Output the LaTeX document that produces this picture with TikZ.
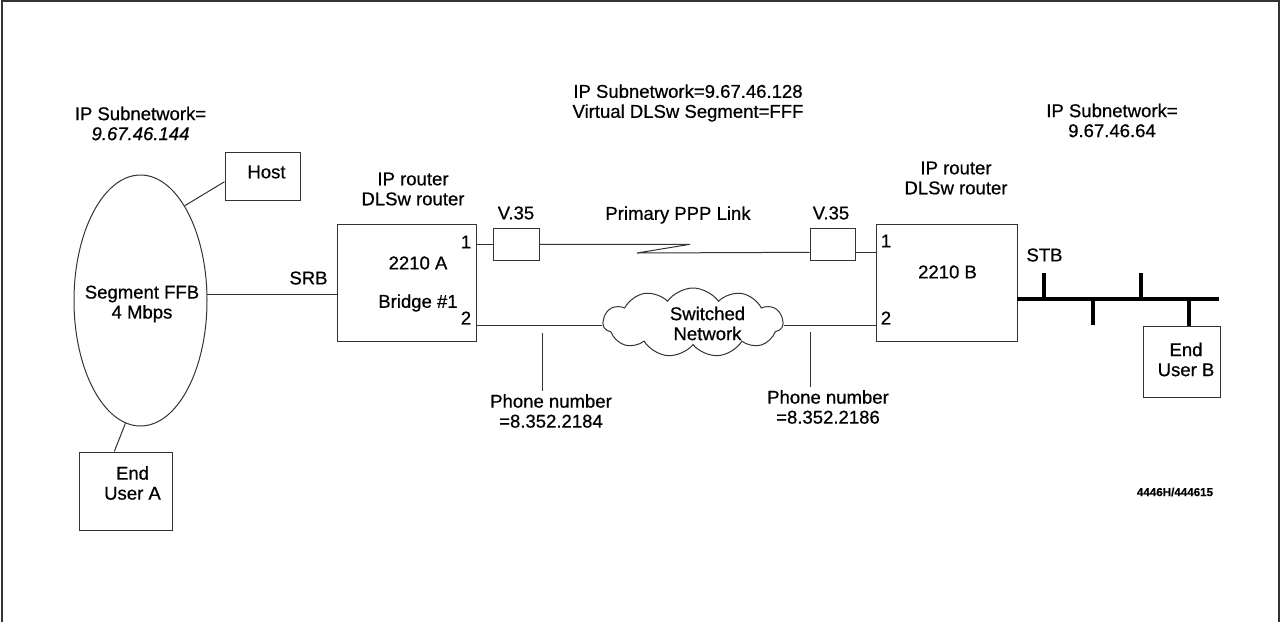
\documentclass[tikz,border=0pt]{standalone}
\usepackage{fontspec}
\setmainfont{Liberation Sans}[FakeBold=0.6]
\usetikzlibrary{shapes.geometric,shapes.symbols}
\begin{document}
\begin{tikzpicture}[x=0.75pt,y=-0.75pt,
 txt/.style={inner sep=0pt,align=center,font=\fontsize{13.9}{15}\selectfont},
 box/.style={draw=black!80,line width=0.75pt,inner sep=0pt},
 conn/.style={draw=black!80,line width=0.75pt},
 bus/.style={draw=black,line width=3pt},
 frameline/.style={draw=black!80,line width=1.5pt}]
\useasboundingbox (0,0) rectangle (1280,622);
% frame
\coordinate (f1) at (2,622);
\coordinate (f2) at (2,1);
\coordinate (f3) at (1279,1);
\coordinate (f4) at (1279,622);
\draw[frameline] (f1) -- (f2) -- (f3) -- (f4);

% shapes
\node[box,ellipse,minimum width=99.75pt,minimum height=188.25pt] (seg) at (140.5,300.5) {};
\node[box,minimum width=56.25pt,minimum height=36pt] (host) at (262.5,176) {};
\node[box,minimum width=69.75pt,minimum height=58.5pt] (eua) at (125.5,491) {};
\node[box,minimum width=104.25pt,minimum height=87.75pt] (ra) at (406.5,282.5) {};
\node[box,minimum width=105.75pt,minimum height=87.75pt] (rb) at (946.5,282.5) {};
\node[box,minimum width=34.5pt,minimum height=24pt] (va) at (516,244.3) {};
\node[box,minimum width=33.75pt,minimum height=24pt] (vb) at (832.5,244.3) {};
\node[box,minimum width=57.75pt,minimum height=53.25pt] (eub) at (1181.5,361.5) {};
\node[box,cloud,cloud puffs=11,cloud puff arc=110,cloud ignores aspect,minimum width=135pt,minimum height=51.75pt] (net) at (693,322.5) {};

% texts
\node[txt] (subL) at (140.5,123.5) {IP Subnetwork=\\{\itshape 9.67.46.144}};
\node[txt] (subM) at (688,103) {IP Subnetwork=9.67.46.128\\Virtual DLSw Segment=FFF};
\node[txt] (subR) at (1112,120.5) {IP Subnetwork=\\9.67.46.64};
\node[txt] (hostt) at (266.5,172) {Host};
\node[txt] (segt) at (142,304) {Segment FFB\\4 Mbps};
\node[txt] (euat) at (132.5,483) {End\\User A};
\node[txt] (srb) at (308.5,278) {SRB};
\node[txt] (ipa) at (413,189) {IP router\\DLSw router};
\node[txt] (pa1) at (466,242) {1};
\node[txt] (rat) at (418,263) {2210 A};
\node[txt] (brt) at (418,303) {Bridge \#1};
\node[txt] (pa2) at (466,318) {2};
\node[txt] (vat) at (516,213) {V.35};
\node[txt] (vbt) at (831,213) {V.35};
\node[txt] (ppp) at (678,215) {Primary PPP Link};
\node[txt] (ipb) at (956,178) {IP router\\DLSw router};
\node[txt] (pb1) at (886,241) {1};
\node[txt] (rbt) at (947.5,272) {2210 B};
\node[txt] (pb2) at (886,318) {2};
\node[txt] (stb) at (1044.5,255) {STB};
\node[txt] (eubt) at (1186,359.5) {End\\User B};
\node[txt] (swt) at (707.5,323.5) {Switched\\Network};
\node[txt] (ph1) at (551,411) {Phone number\\=8.352.2184};
\node[txt] (ph2) at (828,407) {Phone number\\=8.352.2186};
\node[inner sep=0pt,font=\bfseries\fontsize{8.7}{10}\selectfont] (code) at (1175,492) {4446H/444615};

% connectors
\draw[conn] (seg.65) -- ([yshift=-4.3pt]host.west);
\draw[conn] (seg.263) -- ([xshift=-8.4pt]eua.north);
\draw[conn] (seg.5) -- (seg.5 -| ra.west);
\draw[conn] (ra.east |- va.west) -- (va.west);
\coordinate (z1) at (690,244.3);
\coordinate (z2) at (637,253);
\draw[conn] (va.east) -- (z1) -- (z2) -- ([yshift=-6pt]vb.west);
\draw[conn] ([yshift=-6pt]vb.east) -- ([yshift=-6pt]vb.east -| rb.west);
\draw[conn] ([yshift=-2.4pt]net.west) -- ([yshift=-2.4pt]net.west -| ra.east);
\draw[conn] ([yshift=-2.4pt]net.east) -- ([yshift=-2.4pt]net.east -| rb.west);
\coordinate (t1) at (542.7,333);
\coordinate (t2) at (810.7,332);
\draw[conn] (t1) -- ([yshift=2pt]t1 |- ph1.north);
\draw[conn] (t2) -- ([yshift=2pt]t2 |- ph2.north);

% bus
\coordinate (busL) at (1017,299);
\coordinate (busR) at (1219,299);
\draw[bus] (busL) -- (busR);
\coordinate (k1) at (1044,273);
\coordinate (k2) at (1093,325);
\coordinate (k3) at (1141,273);
\draw[bus] (k1) -- (k1 |- busL);
\draw[bus] (k2) -- (k2 |- busL);
\draw[bus] (k3) -- (k3 |- busL);
\draw[bus] ([xshift=5.6pt]eub.north) -- ([xshift=5.6pt]eub.north |- busL);
\end{tikzpicture}
\end{document}
